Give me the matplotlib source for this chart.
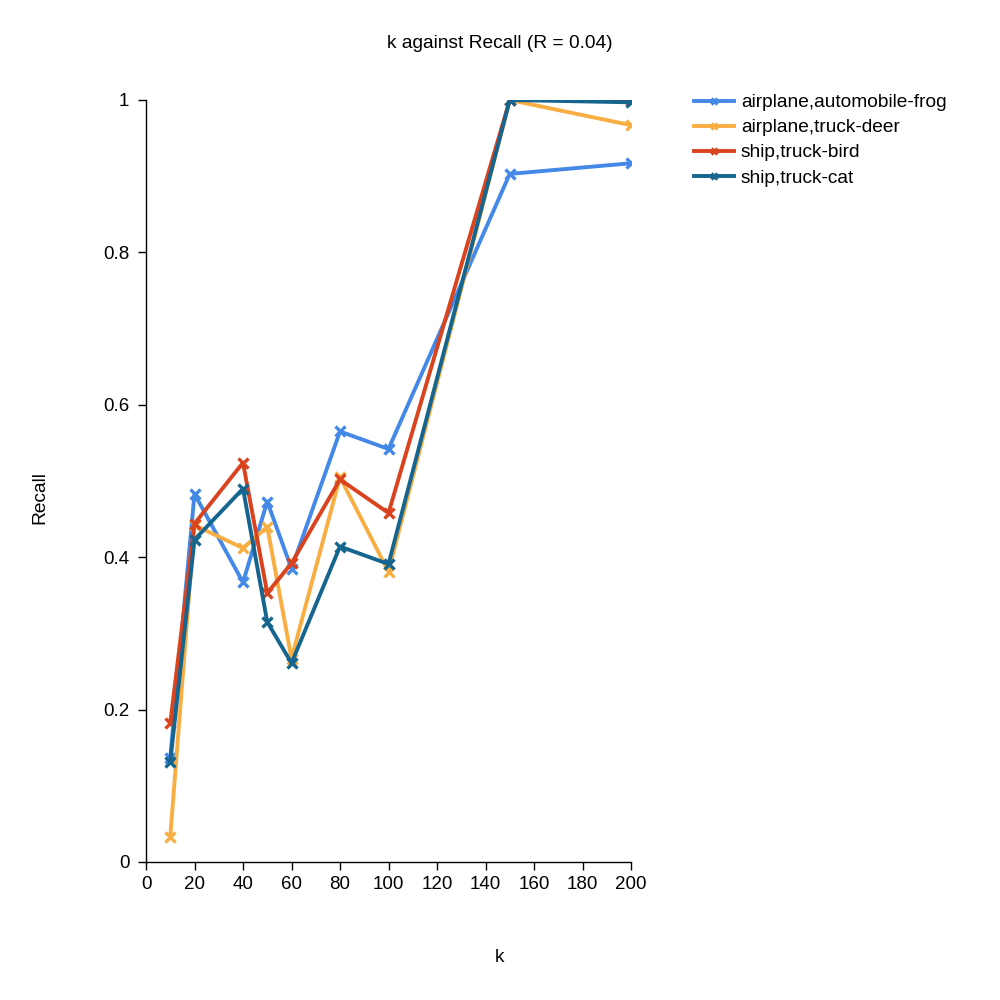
import matplotlib
matplotlib.use("Agg")
from matplotlib import pyplot as plt

plt.rcParams['font.family'] = ['Liberation Sans', 'DejaVu Sans']

# ======== Data ========
k = [10, 20, 40, 50, 60, 80, 100, 150, 200]
labels = ['airplane,automobile-frog', 'airplane,truck-deer', 'ship,truck-bird', 'ship,truck-cat']
recall_frog = [0.137, 0.483, 0.367, 0.473, 0.385, 0.565, 0.542, 0.903, 0.917]
recall_deer = [0.033, 0.442, 0.412, 0.440, 0.267, 0.505, 0.381, 1.000, 0.967]
recall_bird = [0.182, 0.444, 0.524, 0.353, 0.392, 0.502, 0.458, 1.000, 1.000]
recall_cat = [0.131, 0.423, 0.490, 0.315, 0.261, 0.414, 0.391, 1.000, 0.997]
colors = ['#4488e8', '#f8ae42', '#d9431e', '#15658e']
x_ticks = [0, 20, 40, 60, 80, 100, 120, 140, 160, 180, 200]
y_ticks = [0, 0.2, 0.4, 0.6, 0.8, 1]
y_tick_labels = ['0', '0.2', '0.4', '0.6', '0.8', '1']

# ======== Plot ========
fig = plt.figure(figsize=(10, 10), dpi=100)
ax = fig.add_axes([0.146, 0.138, 0.485, 0.762])

for vals, lab, col in zip([recall_frog, recall_deer, recall_bird, recall_cat], labels, colors):
    ax.plot(k, vals, color=col, label=lab, linewidth=2.8,
            marker='x', markersize=6.5, markeredgewidth=2.4)

ax.set_xlim(0, 200)
ax.set_ylim(0, 1)
ax.set_xticks(x_ticks)
ax.set_yticks(y_ticks)
ax.set_yticklabels(y_tick_labels)
ax.tick_params(length=6, width=1, pad=4, labelsize=13.5, direction='out')
ax.tick_params(axis='y', pad=6)
for side in ['top', 'right']:
    ax.spines[side].set_visible(False)
for side in ['left', 'bottom']:
    ax.spines[side].set_linewidth(1)

fig.text(0.5, 0.957, 'k against Recall (R = 0.04)', ha='center', va='center', fontsize=13.8)
fig.text(0.5, 0.042, 'k', ha='center', va='center', fontsize=13.8)
fig.text(0.04, 0.502, 'Recall', ha='center', va='center', rotation=90, fontsize=13.8)

ax.legend(loc='upper left', bbox_to_anchor=(1.13, 1.008), frameon=False, fontsize=13.8,
          handlelength=2.1, handletextpad=0.35, labelspacing=0.4, borderaxespad=0,
          borderpad=0, markerscale=0.6)

fig.savefig('out.png')
